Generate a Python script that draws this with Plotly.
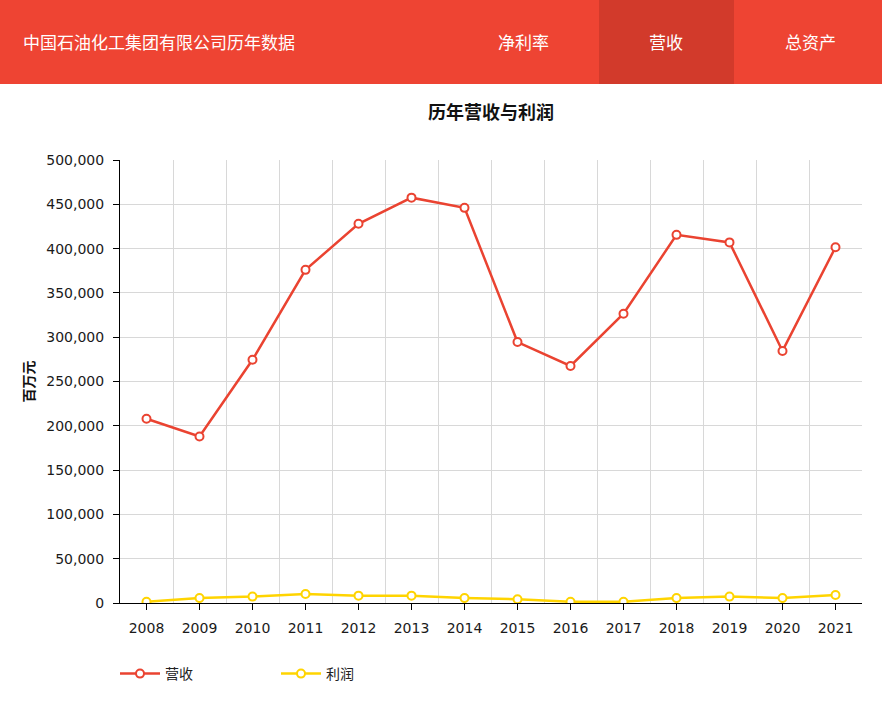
import plotly.graph_objects as go

# chart data
years = list(range(2008, 2022))
revenue = [208000, 188000, 274500, 376000, 428000, 457500, 446000,
           294500, 267500, 326500, 415500, 407000, 284500, 401500]
profit = [1500, 5600, 7200, 10200, 8300, 8300, 5600,
          4200, 1500, 1500, 5600, 7200, 5600, 9000]

page_title = "中国石油化工集团有限公司历年数据"
nav_items = ["净利率", "营收", "总资产"]
chart_title = "历年营收与利润"
y_title = "百万元"

RED = "#ea4331"
YELLOW = "#ffd400"
HEADER = "#ee4433"
HEADER_ACTIVE = "#d23a2b"

W, H = 882, 703
L, R, T, B = 120, 20, 160, 100
pw, ph = W - L - R, H - T - B


def px_x(x):
    return (x - L) / pw


def px_y(y):
    return (H - B - y) / ph


fig = go.Figure()
fig.add_trace(go.Scatter(
    x=years, y=revenue, name="营收", mode="lines+markers",
    line=dict(color=RED, width=2.5),
    marker=dict(symbol="circle", size=8, color="white", line=dict(color=RED, width=2)),
))
fig.add_trace(go.Scatter(
    x=years, y=profit, name="利润", mode="lines+markers",
    line=dict(color=YELLOW, width=2.5),
    marker=dict(symbol="circle", size=8, color="white", line=dict(color=YELLOW, width=2)),
))

# header bar
shapes = [
    dict(type="rect", xref="paper", yref="paper", layer="below",
         x0=px_x(0), x1=px_x(W), y0=px_y(84), y1=px_y(0),
         fillcolor=HEADER, line=dict(width=0)),
    dict(type="rect", xref="paper", yref="paper", layer="below",
         x0=px_x(599), x1=px_x(734), y0=px_y(84), y1=px_y(0),
         fillcolor=HEADER_ACTIVE, line=dict(width=0)),
]

annotations = [
    dict(text=page_title, xref="paper", yref="paper", x=px_x(21), y=px_y(42),
         xanchor="left", yanchor="middle", showarrow=False,
         font=dict(size=17, color="white", family="Noto Sans CJK SC")),
    dict(text="<b>" + y_title + "</b>", xref="paper", yref="paper", x=px_x(27), y=0.5,
         textangle=-90, xanchor="center", yanchor="middle", showarrow=False,
         font=dict(size=14, color="#111", family="Noto Sans CJK SC")),
]
nav_centers = [523, 666, 810]
for name, cx in zip(nav_items, nav_centers):
    annotations.append(dict(
        text=name, xref="paper", yref="paper", x=px_x(cx), y=px_y(42),
        xanchor="center", yanchor="middle", showarrow=False,
        font=dict(size=17, color="white", family="Noto Sans CJK SC")))

fig.update_layout(
    width=W, height=H,
    margin=dict(l=L, r=R, t=T, b=B),
    paper_bgcolor="white", plot_bgcolor="white",
    font=dict(family="DejaVu Sans, Noto Sans CJK SC", size=14, color="#1a1a1a"),
    title=dict(text="<b>" + chart_title + "</b>", x=px_x(491), xref="paper",
               y=1 - 113 / H, yref="container", xanchor="center", yanchor="middle",
               font=dict(size=18, color="#111", family="Noto Sans CJK SC")),
    shapes=shapes,
    annotations=annotations,
    showlegend=True,
    legend=dict(orientation="h", x=px_x(115), y=px_y(674), xanchor="left", yanchor="middle",
                itemwidth=40, entrywidth=106, entrywidthmode="pixels",
                font=dict(size=14, color="#222", family="Noto Sans CJK SC")),
)

fig.update_xaxes(
    range=[2007.5, 2021.5], tickmode="array", tickvals=years,
    ticktext=[str(y) for y in years],
    showgrid=False, showline=True, linecolor="black", linewidth=1,
    ticks="outside", ticklen=6, tickcolor="black", ticklabelstandoff=6,
    minor=dict(tickmode="linear", tick0=2007.5, dtick=1, showgrid=True,
               gridcolor="#d8d8d8", gridwidth=1, ticks=""),
    zeroline=False, fixedrange=True,
)
fig.update_yaxes(
    range=[0, 500000], dtick=50000, tickformat=",",
    showgrid=True, gridcolor="#d8d8d8", gridwidth=1,
    showline=True, linecolor="black", linewidth=1,
    ticks="outside", ticklen=6, tickcolor="black", ticklabelstandoff=6,
    zeroline=False, fixedrange=True,
)

# page has a default 8px body margin; drop it so the header sits at the window edge
fig.write_html("out.html", config={"displayModeBar": False},
               post_script="document.body.style.margin='0';")
